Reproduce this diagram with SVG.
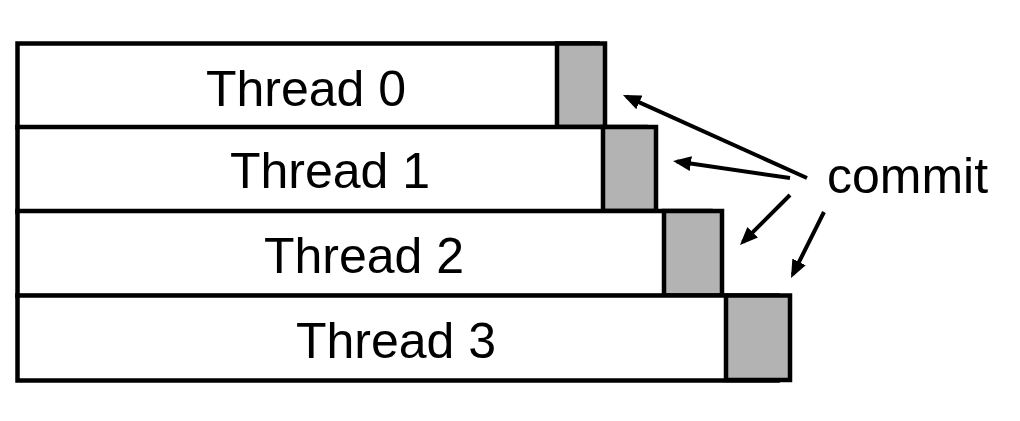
<svg xmlns="http://www.w3.org/2000/svg" width="1020" height="421" viewBox="0 0 1020 421">
  <style>
    .bar { fill: #ffffff; stroke: #000000; stroke-width: 4.5; }
    .commit { fill: #b3b3b3; stroke: #000000; stroke-width: 4.5; }
    .label { font-family: "Liberation Sans", Arial, sans-serif; font-size: 50px; fill: #000000; }
    .conn line { stroke: #000000; stroke-width: 4; fill: none; marker-end: url(#head); }
  </style>
  <defs>
    <marker id="head" viewBox="0 0 18 15" markerWidth="18" markerHeight="15" refX="14" refY="7.5" orient="auto" markerUnits="userSpaceOnUse">
      <path d="M0,0 L18,7.5 L0,15 z" fill="#000000"/>
    </marker>
  </defs>
  <rect width="1020" height="421" fill="#ffffff"/>

  <g id="thread0">
    <rect class="bar" x="17.5" y="43.5" width="580" height="84"/>
    <rect class="commit" x="557" y="43.5" width="48" height="83.5"/>
    <text class="label" x="206" y="105.5">Thread 0</text>
  </g>
  <g id="thread1">
    <rect class="bar" x="17.5" y="127" width="628" height="85"/>
    <rect class="commit" x="603" y="127" width="53" height="84"/>
    <text class="label" x="230" y="187.5">Thread 1</text>
  </g>
  <g id="thread2">
    <rect class="bar" x="17.5" y="211" width="693" height="85"/>
    <rect class="commit" x="664" y="211" width="58" height="84.5"/>
    <text class="label" x="264" y="272.5">Thread 2</text>
  </g>
  <g id="thread3">
    <rect class="bar" x="17.5" y="295.5" width="760" height="85"/>
    <rect class="commit" x="726" y="295.5" width="64" height="84.5"/>
    <text class="label" x="296" y="357.5">Thread 3</text>
  </g>

  <g id="commit-label">
    <text class="label" x="827" y="192.5">commit</text>
  </g>

  <g id="connectors" class="conn">
    <line x1="807" y1="178" x2="626.6" y2="96.6"/>
    <line x1="790" y1="178" x2="677" y2="161.6"/>
    <line x1="790" y1="195" x2="742.8" y2="242.2"/>
    <line x1="824" y1="212" x2="792.8" y2="274.4"/>
  </g>
</svg>
